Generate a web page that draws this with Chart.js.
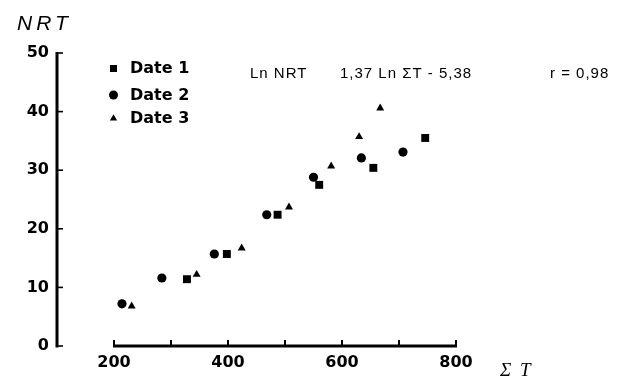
<!DOCTYPE html>
<html><head><meta charset="utf-8">
<script src="https://cdn.jsdelivr.net/npm/chart.js@4"></script>
<style>html,body{margin:0;padding:0;background:#fff;}#wrap{width:621px;height:377px;position:relative;}</style>
</head><body><div id="wrap"><canvas id="c" width="621" height="377"></canvas></div>
<script>
// ---- data ----
const seriesNames = ['Date 1', 'Date 2', 'Date 3'];
const date1X = [328, 398, 487, 560, 655, 746];
const date1Y = [11.4, 15.7, 22.4, 27.5, 30.4, 35.5];
const date2X = [214, 284, 376, 468, 550, 634, 707];
const date2Y = [7.2, 11.6, 15.7, 22.4, 28.8, 32.1, 33.1];
const date3X = [231, 345, 424, 507, 581, 630, 667];
const date3Y = [6.8, 12.2, 16.7, 23.7, 30.7, 35.7, 40.6];
const xTickValues = [200, 300, 400, 500, 600, 700, 800];
const xTickLabels = ['200', '', '400', '', '600', '', '800'];
const yTickValues = [0, 10, 20, 30, 40, 50];
const yTickLabels = ['0', '10', '20', '30', '40', '50'];
const yAxisTitle = 'NRT';
const xAxisTitle = 'Σ T';
const equationParts = ['Ln NRT', '1,37 Ln ΣT - 5,38', 'r = 0,98'];

const pts = (xs, ys) => xs.map((x, i) => ({x: x, y: ys[i]}));
const styles = ['rect', 'circle', 'triangle'];
const radii = [5.6, 4.6, 4.6];

const tickFont = {family: 'DejaVu Sans', size: 16, weight: 'bold'};

const overlay = {
  id: 'overlay',
  afterDraw(chart) {
    const ctx = chart.ctx;
    const xs = chart.scales.x, ys = chart.scales.y;
    const x0 = xs.left, yb = ys.bottom, yt = ys.top;
    ctx.save();
    ctx.strokeStyle = '#000';
    ctx.fillStyle = '#000';
    // y axis
    ctx.lineWidth = 3;
    ctx.beginPath(); ctx.moveTo(x0, yt - 1); ctx.lineTo(x0, yb + 1.5); ctx.stroke();
    ctx.lineWidth = 1.6;
    yTickValues.forEach(v => {
      const py = ys.getPixelForValue(v);
      ctx.beginPath(); ctx.moveTo(x0, py); ctx.lineTo(x0 + 6, py); ctx.stroke();
    });
    // x axis
    const xa = xs.getPixelForValue(xTickValues[0]);
    const xe = xs.getPixelForValue(xTickValues[xTickValues.length - 1]);
    ctx.lineWidth = 3;
    ctx.beginPath(); ctx.moveTo(xa - 1, yb); ctx.lineTo(xe + 1, yb); ctx.stroke();
    ctx.lineWidth = 2;
    xTickValues.forEach(v => {
      const px = xs.getPixelForValue(v);
      ctx.beginPath(); ctx.moveTo(px, yb); ctx.lineTo(px, yb - 6); ctx.stroke();
    });
    // axis titles
    ctx.font = 'italic 21px "Liberation Sans"';
    ctx.letterSpacing = '4px';
    ctx.textAlign = 'left'; ctx.textBaseline = 'alphabetic';
    ctx.fillText(yAxisTitle, 17, 30);
    ctx.font = 'italic 19px "Liberation Serif"';
    ctx.letterSpacing = '2px';
    ctx.fillText(xAxisTitle, 500, 376);
    // equation
    ctx.font = '15px "Liberation Sans"';
    ctx.letterSpacing = '1px';
    const eqX = [250, 340, 550];
    equationParts.forEach((t, i) => ctx.fillText(t, eqX[i], 78));
    ctx.letterSpacing = '0px';
    // legend
    const ly = [68.5, 95, 118.5];
    const lx = 113.5;
    ctx.font = 'bold 16px "DejaVu Sans"';
    chart.data.datasets.forEach((ds, i) => {
      const y = ly[i];
      ctx.beginPath();
      if (styles[i] === 'rect') {
        ctx.rect(lx - 3.5, y - 3.5, 7, 7);
      } else if (styles[i] === 'circle') {
        ctx.arc(lx, y, 4.5, 0, Math.PI * 2);
      } else {
        const r = 4.2;
        ctx.moveTo(lx, y - r);
        ctx.lineTo(lx + r * 0.866, y + r / 2);
        ctx.lineTo(lx - r * 0.866, y + r / 2);
        ctx.closePath();
      }
      ctx.fill();
      ctx.textBaseline = 'middle';
      ctx.fillText(ds.label, 130, y + 0.5);
    });
    ctx.restore();
  }
};

new Chart(document.getElementById('c'), {
  type: 'scatter',
  data: {
    datasets: [
      {label: seriesNames[0], data: pts(date1X, date1Y)},
      {label: seriesNames[1], data: pts(date2X, date2Y)},
      {label: seriesNames[2], data: pts(date3X, date3Y)}
    ].map((d, i) => Object.assign(d, {
      pointStyle: styles[i], pointRadius: radii[i], pointHoverRadius: radii[i],
      backgroundColor: '#000', borderColor: '#000', borderWidth: 0
    }))
  },
  options: {
    responsive: false, devicePixelRatio: 1, animation: false,
    layout: {padding: {top: 53, right: 165, bottom: 0, left: 0}},
    plugins: {legend: {display: false}, tooltip: {enabled: false}},
    scales: {
      x: {
        type: 'linear', min: 100, max: 800,
        grid: {display: false, drawTicks: false}, border: {display: false},
        afterBuildTicks: s => { s.ticks = xTickValues.map(v => ({value: v})); },
        afterFit: s => { s.height = 31; },
        ticks: {autoSkip: false, maxRotation: 0, padding: 7, color: '#000', font: tickFont,
          callback: v => { const i = xTickValues.indexOf(v); return i < 0 ? '' : xTickLabels[i]; }}
      },
      y: {
        min: 0, max: 50,
        grid: {display: false, drawTicks: false}, border: {display: false},
        afterBuildTicks: s => { s.ticks = yTickValues.map(v => ({value: v})); },
        afterFit: s => { s.width = 57; },
        ticks: {autoSkip: false, padding: 8, color: '#000', font: tickFont,
          callback: v => { const i = yTickValues.indexOf(v); return i < 0 ? '' : yTickLabels[i]; }}
      }
    }
  },
  plugins: [overlay]
});
</script></body></html>
